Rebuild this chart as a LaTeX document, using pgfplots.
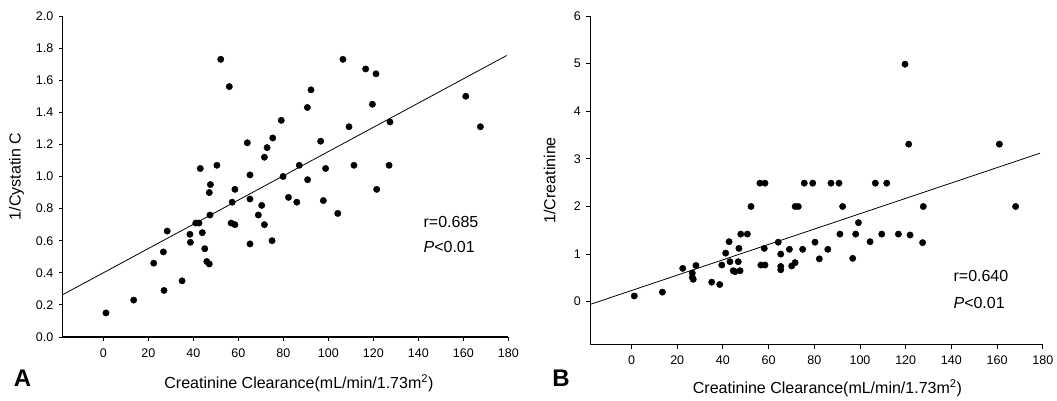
\documentclass[border=0pt]{standalone}
\usepackage{fontspec}
\setmainfont{Liberation Sans}
\usepackage{pgfplots}
\usepackage{pgfplotstable}
\pgfplotsset{compat=1.18}

% 1/Cystatin C against creatinine clearance
\pgfplotstableread{
x y
1.2 0.15
13.5 0.23
27.0 0.29
35.0 0.35
22.4 0.46
26.7 0.53
28.4 0.66
38.5 0.64
38.7 0.59
41.1 0.71
42.5 0.71
44.0 0.65
45.1 0.55
46.0 0.47
47.1 0.455
47.4 0.76
47.1 0.90
47.6 0.95
43.1 1.05
50.5 1.07
52.2 1.73
56.0 1.56
58.5 0.92
57.3 0.84
56.8 0.71
58.5 0.70
65.2 1.01
65.2 0.86
64.0 1.21
65.2 0.58
70.4 0.82
68.9 0.76
71.6 0.70
71.6 1.12
72.8 1.18
75.3 1.24
75.0 0.60
79.1 1.35
79.9 1.00
82.3 0.87
86.0 0.84
87.1 1.07
90.7 1.43
92.3 1.54
90.8 0.98
96.6 1.22
98.8 1.05
97.8 0.85
104.2 0.77
106.5 1.73
109.2 1.31
111.4 1.07
116.6 1.67
119.6 1.45
121.2 1.64
121.5 0.92
127.0 1.07
127.4 1.34
161.1 1.50
167.6 1.31
}\cystatin

% 1/Creatinine against creatinine clearance
\pgfplotstableread{
x y
1.2 0.12
13.5 0.20
22.4 0.70
26.6 0.60
26.6 0.51
27.0 0.47
28.2 0.76
35.1 0.41
38.6 0.36
39.5 0.77
41.2 1.02
42.7 1.26
43.1 0.84
44.5 0.65
45.3 0.63
47.5 0.65
46.7 0.84
47.0 1.12
47.8 1.42
50.7 1.42
52.3 2.00
56.2 2.49
58.4 2.49
56.6 0.77
58.4 0.77
58.1 1.12
64.2 1.25
65.3 1.00
65.3 0.74
65.3 0.67
69.1 1.10
70.1 0.75
71.6 0.82
71.6 2.00
73.0 2.00
74.9 1.10
75.6 2.49
79.3 2.49
80.3 1.25
82.2 0.90
85.9 1.10
87.3 2.49
90.8 2.49
91.2 1.42
92.4 2.00
96.8 0.91
98.1 1.42
99.3 1.66
104.4 1.26
106.7 2.49
109.5 1.42
111.7 2.49
116.8 1.42
119.7 4.99
121.3 3.31
121.9 1.40
127.4 1.24
127.7 2.00
161.0 3.31
168.1 2.00
}\creatinine

\pgfplotsset{
  clearance/.style={
    scale only axis,
    axis lines=left,
    axis line style={-, line width=1.2pt},
    tick align=outside,
    tick style={black, line width=1pt},
    major tick length=4pt,
    xmin=-18, xmax=180,
    xtick={0,20,...,180},
    tick label style={font=\fontsize{12.5}{14}\selectfont},
    xticklabel style={yshift=-4pt},
    yticklabel style={xshift=-2pt},
    /pgf/number format/assume math mode=true,
    label style={font=\fontsize{16}{18}\selectfont},
    xlabel={Creatinine Clearance(mL/min/1.73m\textsuperscript{2})},
  },
  dots/.style={only marks, mark=*, mark size=3.2pt, black},
  fit/.style={black, line width=0.8pt, no marks},
}

\begin{document}
\begin{tikzpicture}
\path[use as bounding box] (0pt,0pt) rectangle (1057pt,400pt);

\begin{axis}[clearance,
    at={(62.8pt,63pt)}, anchor=south west,
    width=445.5pt, height=321pt,
    ymin=0, ymax=2,
    ytick={0,0.2,...,2.0},
    yticklabel style={/pgf/number format/fixed, /pgf/number format/precision=1, /pgf/number format/fixed zerofill},
    ylabel={1/Cystatin C},
    xlabel style={at={(axis description cs:0.53,-0.143)}, anchor=center},
    ylabel style={at={(axis description cs:-0.104,0.5)}, anchor=center},
  ]
  \addplot[dots] table[x=x, y=y] {\cystatin};
  \addplot[fit] coordinates {(-18,0.264) (179.3,1.754)};
  \node[anchor=west, font=\fontsize{16}{18}\selectfont] at (axis cs:140.8,0.718) {r=0.685};
  \node[anchor=west, font=\fontsize{16}{18}\selectfont] at (axis cs:140.8,0.559) {\textit{P}<0.01};
\end{axis}

\begin{axis}[clearance,
    at={(590.4pt,55.5pt)}, anchor=south west,
    width=452.4pt, height=328.4pt,
    ymin=-0.9, ymax=6,
    ytick={0,1,...,6},
    ylabel={1/Creatinine},
    xlabel style={at={(axis description cs:0.524,-0.134)}, anchor=center},
    ylabel style={at={(axis description cs:-0.09,0.5)}, anchor=center},
  ]
  \addplot[dots] table[x=x, y=y] {\creatinine};
  \addplot[fit] coordinates {(-18,-0.056) (178.8,3.12)};
  \node[anchor=west, font=\fontsize{16}{18}\selectfont] at (axis cs:139.4,0.54) {r=0.640};
  \node[anchor=west, font=\fontsize{16}{18}\selectfont] at (axis cs:139.4,-0.02) {\textit{P}<0.01};
\end{axis}

\node[font=\fontsize{24}{24}\selectfont\bfseries] at (22.5pt,21.5pt) {A};
\node[font=\fontsize{24}{24}\selectfont\bfseries] at (561pt,22pt) {B};
\end{tikzpicture}
\end{document}
